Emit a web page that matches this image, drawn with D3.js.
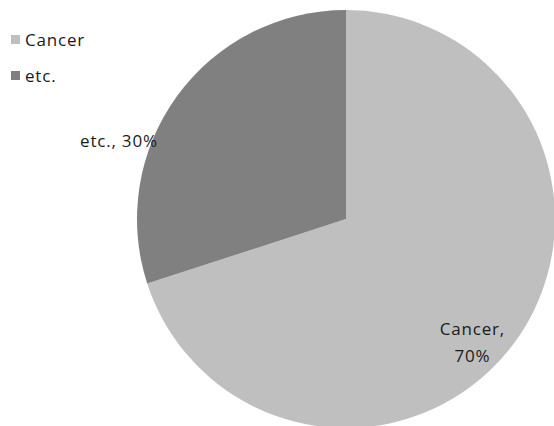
<!DOCTYPE html>
<html>
<head>
<meta charset="utf-8">
<script src="https://cdn.jsdelivr.net/npm/d3@7"></script>
<style>
  html, body { margin: 0; padding: 0; background: #fff; }
  svg { display: block; font-family: "Open Sans", "Noto Sans", sans-serif; }
  text { letter-spacing: 0.8px; }
</style>
</head>
<body>
<svg id="chart" width="554" height="426"></svg>
<script>
const categories = ["Cancer", "etc."];
const shares = [70, 30];
const colors = ["#bfbfbf", "#808080"];

const svg = d3.select("#chart");
const cx = 346, cy = 219, r = 209;

const pie = d3.pie().sort(null).value(d => d.value);
const arcs = pie(categories.map((c, i) => ({ name: c, value: shares[i] })));
const arc = d3.arc().innerRadius(0).outerRadius(r);

const g = svg.append("g").attr("transform", `translate(${cx},${cy})`);
g.selectAll("path").data(arcs).enter().append("path")
  .attr("d", arc)
  .attr("fill", (d, i) => colors[i]);

// data labels (centred; letter-spacing adds trailing space, so nudge right)
const lab = svg.append("g").attr("font-size", 17).attr("fill", "#1a1a1a");
lab.append("text").attr("x", 472.4).attr("y", 335).attr("text-anchor", "middle")
  .text(`${categories[0]},`);
lab.append("text").attr("x", 472.4).attr("y", 362).attr("text-anchor", "middle")
  .text(`${shares[0]}%`);
lab.append("text").attr("x", 118.9).attr("y", 147).attr("text-anchor", "middle")
  .text(`${categories[1]}, ${shares[1]}%`);

// legend
const leg = svg.append("g");
categories.forEach((c, i) => {
  const y = 39 + i * 36;
  leg.append("rect").attr("x", 11).attr("y", y - 4).attr("width", 9).attr("height", 9)
    .attr("fill", colors[i]);
  leg.append("text").attr("x", 25).attr("y", y + 7).attr("font-size", 17).attr("fill", "#1a1a1a")
    .text(c);
});
</script>
</body>
</html>
